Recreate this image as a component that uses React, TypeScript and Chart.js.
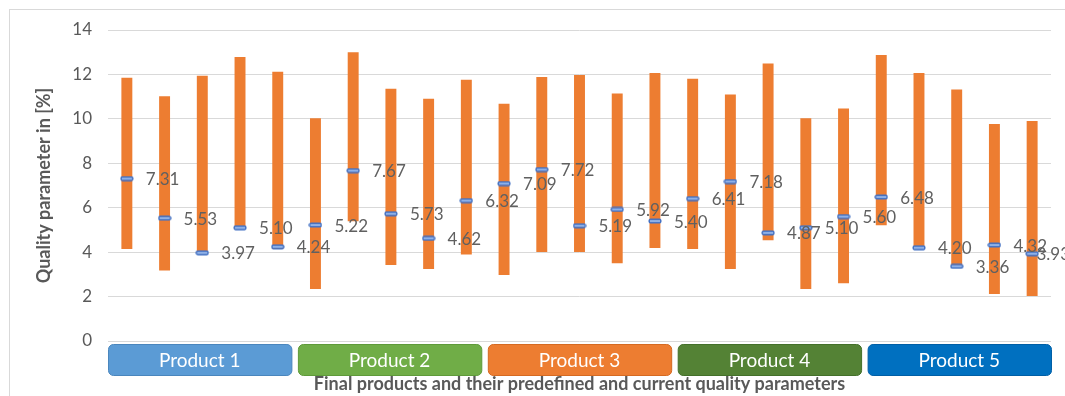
import React, { useEffect, useRef } from "react";
import { Chart, registerables } from "chart.js";

Chart.register(...registerables);

const categories = Array.from({ length: 25 }, (_, i) => `P${Math.floor(i / 5) + 1}-${(i % 5) + 1}`);
const rangeLow = [4.14, 3.17, 3.97, 5.07, 4.14, 2.34, 5.39, 3.42, 3.24, 3.89, 2.97, 4.01, 4.01, 3.5, 4.19, 4.14, 3.24, 4.53, 2.34, 2.6, 5.21, 4.15, 3.36, 2.12, 2.03];
const rangeHigh = [11.85, 11.02, 11.94, 12.79, 12.12, 10.03, 13.0, 11.35, 10.9, 11.76, 10.68, 11.88, 11.97, 11.14, 12.06, 11.8, 11.1, 12.49, 10.03, 10.47, 12.87, 12.06, 11.32, 9.77, 9.9];
const currentValues = [7.31, 5.53, 3.97, 5.1, 4.24, 5.22, 7.67, 5.73, 4.62, 6.32, 7.09, 7.72, 5.19, 5.92, 5.4, 6.41, 7.18, 4.87, 5.1, 5.6, 6.48, 4.2, 3.36, 4.32, 3.93];
const productGroups = ["Product 1", "Product 2", "Product 3", "Product 4", "Product 5"];
const groupColors = ["#5b9bd5", "#70ad47", "#ed7d31", "#548235", "#0070c0"];
const groupBorders = ["#4a86bd", "#5f9a3a", "#d56a22", "#44702a", "#005fa6"];
const yTicks = [0, 2, 4, 6, 8, 10, 12, 14];

const FONT = "Lato, 'Open Sans', sans-serif";

function makeMarker(): HTMLCanvasElement {
  const c = document.createElement("canvas");
  c.width = 14;
  c.height = 6;
  const ctx = c.getContext("2d")!;
  ctx.fillStyle = "#4472c4";
  ctx.beginPath();
  (ctx as any).roundRect ? (ctx as any).roundRect(0.5, 0.5, 13, 5, 2) : ctx.rect(0.5, 0.5, 13, 5);
  ctx.fill();
  ctx.fillStyle = "#8fb0e6";
  ctx.fillRect(2, 2, 10, 2);
  return c;
}

const overlayPlugin = {
  id: "overlay",
  beforeDraw(chart: any) {
    const ctx = chart.ctx;
    ctx.save();
    ctx.strokeStyle = "#d9d9d9";
    ctx.lineWidth = 1;
    ctx.strokeRect(9.5, 9.5, chart.width + 20, chart.height + 20);
    ctx.restore();
  },
  afterDatasetsDraw(chart: any) {
    const ctx = chart.ctx;
    const x = chart.scales.x;
    const y = chart.scales.y;
    ctx.save();
    ctx.font = `17px ${FONT}`;
    ctx.fillStyle = "#606060";
    ctx.textAlign = "left";
    ctx.textBaseline = "middle";
    currentValues.forEach((v, i) => {
      const px = x.getPixelForValue(i);
      const py = y.getPixelForValue(v);
      const txt = v.toFixed(2);
      const tw = ctx.measureText(txt).width;
      let lx = px + 19;
      if (lx + tw > chart.width + 5) lx = chart.width + 5 - tw;
      ctx.fillText(txt, lx, py + 1);
    });
    const area = chart.chartArea;
    const gap = 6.5;
    const span = area.right - area.left;
    const w = (span - gap * (productGroups.length - 1)) / productGroups.length;
    const top = area.bottom + 3;
    const h = 31;
    productGroups.forEach((g, i) => {
      const left = area.left + i * (w + gap);
      ctx.beginPath();
      if (ctx.roundRect) ctx.roundRect(left + 0.5, top + 0.5, w, h, 5);
      else ctx.rect(left + 0.5, top + 0.5, w, h);
      ctx.fillStyle = groupColors[i];
      ctx.fill();
      ctx.strokeStyle = groupBorders[i];
      ctx.lineWidth = 1;
      ctx.stroke();
      ctx.fillStyle = "#ffffff";
      ctx.font = `19px ${FONT}`;
      ctx.textAlign = "center";
      ctx.textBaseline = "middle";
      ctx.fillText(g, left + w / 2, top + h / 2 + 1);
    });
    ctx.restore();
  },
};

export default function App() {
  const ref = useRef<HTMLCanvasElement>(null);
  useEffect(() => {
    const marker = makeMarker();
    const chart = new Chart(ref.current!, {
      type: "bar",
      data: {
        labels: categories,
        datasets: [
          {
            type: "line",
            label: "Current",
            data: currentValues,
            showLine: false,
            pointStyle: marker as any,
            pointRadius: 7,
            order: 0,
          } as any,
          {
            type: "bar",
            label: "Predefined range",
            data: rangeLow.map((l, i) => [l, rangeHigh[i]]),
            backgroundColor: "#ed7d31",
            borderWidth: 0,
            categoryPercentage: 1,
            barPercentage: 0.29,
            order: 1,
          },
        ],
      },
      options: {
        animation: false,
        responsive: false,
        maintainAspectRatio: false,
        layout: { padding: { left: 8, right: 14, top: 30, bottom: 1 } },
        plugins: { legend: { display: false }, tooltip: { enabled: false } },
        scales: {
          x: {
            grid: { display: false, drawTicks: false },
            border: { display: false },
            ticks: { display: false },
            title: {
              display: true,
              text: "Final products and their predefined and current quality parameters",
              color: "#595959",
              font: { family: FONT, size: 18, weight: "bold" },
              padding: { top: 0, bottom: 0 },
            },
            afterFit: (s: any) => {
              s.height = 54;
            },
          },
          y: {
            min: 0,
            max: 14,
            afterBuildTicks: (s: any) => {
              s.ticks = yTicks.map((v) => ({ value: v }));
            },
            grid: { color: "#d9d9d9", drawTicks: false, lineWidth: 1 },
            border: { display: false },
            ticks: {
              color: "#595959",
              font: { family: FONT, size: 17 },
              padding: 16,
            },
            title: {
              display: true,
              text: "Quality parameter in [%]",
              color: "#595959",
              font: { family: FONT, size: 18, weight: "bold" },
              padding: { top: 25, bottom: 0 },
            },
            afterFit: (s: any) => {
              s.width = 100;
            },
          },
        },
      },
      plugins: [overlayPlugin],
    });
    return () => chart.destroy();
  }, []);
  return (
    <div style={{ position: "fixed", left: 0, top: 0, width: 1065, height: 396, background: "#fff" }}>
      <canvas ref={ref} width={1065} height={396} style={{ width: 1065, height: 396 }} />
    </div>
  );
}
